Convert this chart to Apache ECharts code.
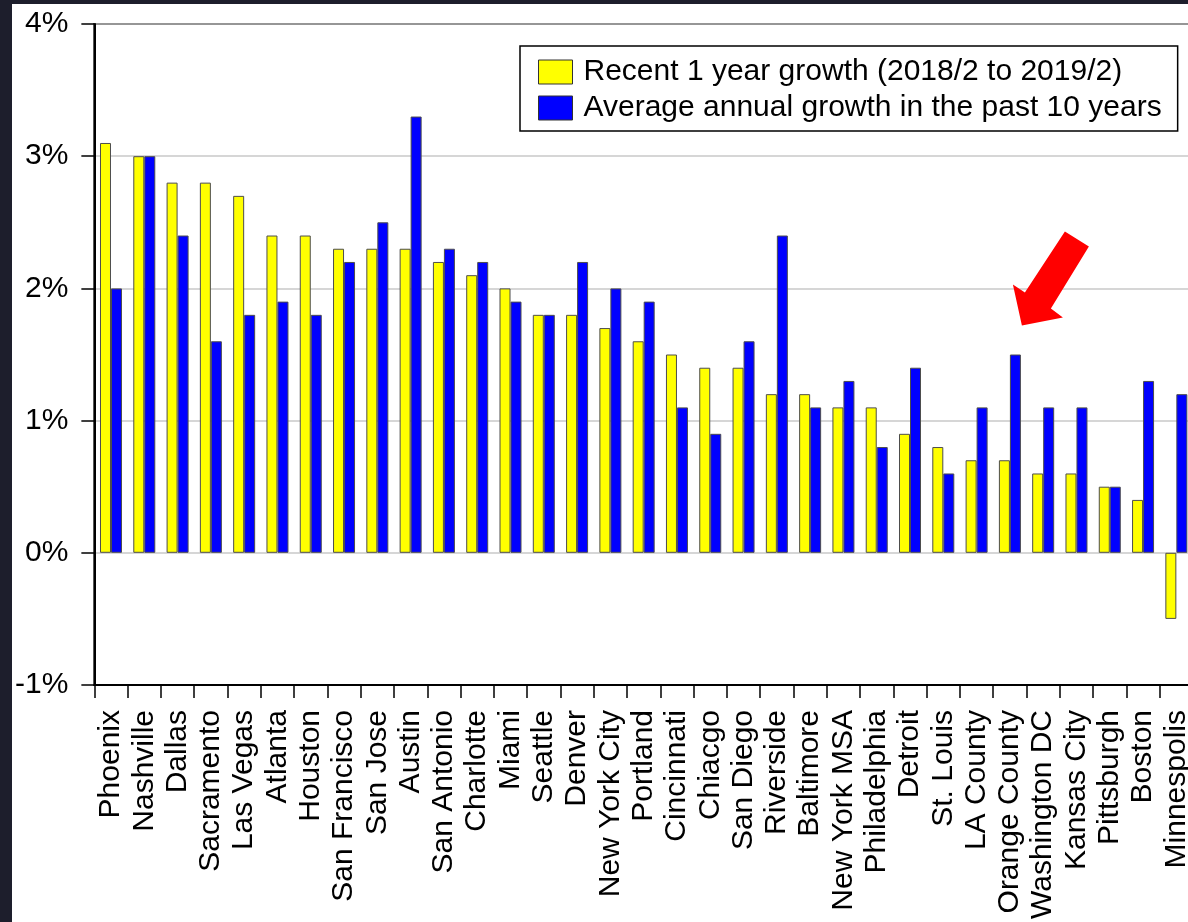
<!DOCTYPE html>
<html>
<head>
<meta charset="utf-8">
<script src="https://cdn.jsdelivr.net/npm/echarts@6/dist/echarts.min.js"></script>
<style>
  html, body { margin: 0; padding: 0; background: #1d1e2c; width: 1188px; height: 922px; overflow: hidden; }
  #chart { position: absolute; left: 12px; top: 4px; width: 1200px; height: 918px; background: #ffffff; }
</style>
</head>
<body>
<div id="chart"></div>
<script>
// Metro areas, ordered by recent growth
const cities = [
  'Phoenix', 'Nashville', 'Dallas', 'Sacramento', 'Las Vegas', 'Atlanta', 'Houston',
  'San Francisco', 'San Jose', 'Austin', 'San Antonio', 'Charlotte', 'Miami', 'Seattle',
  'Denver', 'New York City', 'Portland', 'Cincinnati', 'Chiacgo', 'San Diego', 'Riverside',
  'Baltimore', 'New York MSA', 'Philadelphia', 'Detroit', 'St. Louis', 'LA County',
  'Orange County', 'Washington DC', 'Kansas City', 'Pittsburgh', 'Boston', 'Minnespolis'
];

// Recent 1 year growth (%), 2018/2 to 2019/2
const recentGrowth = [
  3.1, 3.0, 2.8, 2.8, 2.7, 2.4, 2.4,
  2.3, 2.3, 2.3, 2.2, 2.1, 2.0, 1.8,
  1.8, 1.7, 1.6, 1.5, 1.4, 1.4, 1.2,
  1.2, 1.1, 1.1, 0.9, 0.8, 0.7,
  0.7, 0.6, 0.6, 0.5, 0.4, -0.5
];

// Average annual growth over the past 10 years (%)
const tenYearGrowth = [
  2.0, 3.0, 2.4, 1.6, 1.8, 1.9, 1.8,
  2.2, 2.5, 3.3, 2.3, 2.2, 1.9, 1.8,
  2.2, 2.0, 1.9, 1.1, 0.9, 1.6, 2.4,
  1.1, 1.3, 0.8, 1.4, 0.6, 1.1,
  1.5, 1.1, 1.1, 0.5, 1.3, 1.2
];

const seriesNames = [
  'Recent 1 year growth (2018/2 to 2019/2)',
  'Average annual growth in the past 10 years'
];

// Highlighted city and the value level the callout arrow points at
const highlightCity = 'Orange County';
const highlightLevel = 1.72;

const FONT = '"Liberation Sans", Arial, Helvetica, sans-serif';

const chart = echarts.init(document.getElementById('chart'), null, { renderer: 'canvas' });

const option = {
  animation: false,
  backgroundColor: '#ffffff',
  textStyle: { fontFamily: FONT, color: '#000' },
  grid: {
    left: 79,
    top: 20,
    width: 1102,
    height: 661,
    show: true,
    borderColor: '#000',
    borderWidth: 2,
    backgroundColor: 'transparent',
    containLabel: false
  },
  legend: {
    orient: 'vertical',
    left: 508,
    top: 42,
    padding: [11, 16, 8, 18],
    itemWidth: 34,
    itemHeight: 24,
    itemGap: 6,
    backgroundColor: '#fff',
    borderColor: '#000',
    borderWidth: 1.5,
    borderRadius: 0,
    icon: 'rect',
    selectedMode: false,
    itemStyle: { borderColor: '#333', borderWidth: 1 },
    textStyle: { fontFamily: FONT, fontSize: 30, color: '#000', lineHeight: 24, padding: [0, 0, 0, 6] },
    data: seriesNames
  },
  xAxis: {
    type: 'category',
    data: cities,
    boundaryGap: true,
    axisLine: { show: true, onZero: false, lineStyle: { color: '#000', width: 2 } },
    axisTick: { show: true, inside: false, length: 13, alignWithLabel: false, lineStyle: { color: '#000', width: 1.5 } },
    axisLabel: {
      interval: 0,
      rotate: 90,
      margin: 25,
      fontFamily: FONT,
      fontSize: 30,
      color: '#000'
    },
    splitLine: { show: false }
  },
  yAxis: {
    type: 'value',
    min: -1,
    max: 4,
    interval: 1,
    axisLine: { show: true, lineStyle: { color: '#000', width: 2 } },
    axisTick: { show: true, inside: false, length: 13, lineStyle: { color: '#000', width: 1.5 } },
    axisLabel: {
      margin: 26,
      fontFamily: FONT,
      fontSize: 30,
      color: '#000',
      formatter: '{value}%'
    },
    splitLine: { show: true, lineStyle: { color: '#c8c8c8', width: 1.5 } }
  },
  series: [
    {
      name: seriesNames[0],
      type: 'bar',
      data: recentGrowth,
      barWidth: 11,
      barGap: '0%',
      itemStyle: { color: '#ffff00', borderColor: '#4d4d4d', borderWidth: 1 }
    },
    {
      name: seriesNames[1],
      type: 'bar',
      data: tenYearGrowth,
      barWidth: 11,
      barGap: '0%',
      itemStyle: { color: '#0000ff', borderColor: '#4d4d4d', borderWidth: 1 }
    }
  ]
};

chart.setOption(option);

// Red callout arrow, anchored at its tip near the highlighted city
const tip = chart.convertToPixel({ gridIndex: 0 }, [highlightCity, highlightLevel]);
const tipDx = 12;
const arrowShape = [[43, -94], [67, -79], [29, -17], [41, -8], [0, 0], [-9, -41], [3, -33]];
chart.setOption({
  graphic: [{
    type: 'polygon',
    z: 100,
    shape: { points: arrowShape.map(p => [tip[0] + tipDx + p[0], tip[1] + p[1]]) },
    style: { fill: '#ff0000', stroke: 'none' }
  }]
});
</script>
</body>
</html>
